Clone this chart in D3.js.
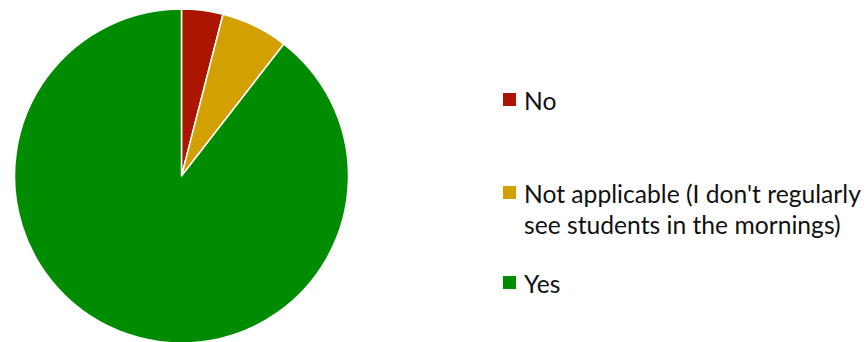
<!DOCTYPE html>
<html>
<head>
<meta charset="utf-8">
<script src="https://cdn.jsdelivr.net/npm/d3@7"></script>
<style>
  html, body { margin: 0; padding: 0; background: #fff; }
  svg { display: block; }
  text { font-family: Lato, "Open Sans", sans-serif; fill: #111; }
</style>
</head>
<body>
<svg id="chart" width="868" height="342"></svg>
<script>
// Survey answers and their shares of responses (%)
const categories = ["No", "Not applicable (I don't regularly see students in the mornings)", "Yes"];
const legendLines = [["No"], ["Not applicable (I don't regularly", "see students in the mornings)"], ["Yes"]];
const values = [4.0, 6.5, 89.5];
const colors = ["#AC1500", "#D2A000", "#008C00"];

const svg = d3.select("#chart");
const cx = 181.5, cy = 176, r = 167;

const pie = d3.pie().sort(null).value(d => d)(values);
const arc = d3.arc().innerRadius(0).outerRadius(r);

svg.append("g")
  .attr("transform", `translate(${cx},${cy})`)
  .selectAll("path")
  .data(pie)
  .join("path")
  .attr("d", arc)
  .attr("fill", (d, i) => colors[i])
  .attr("stroke", "#fff")
  .attr("stroke-width", 1.5)
  .attr("stroke-linejoin", "round");

// Legend
const legendTop = [93, 186, 276];
const legend = svg.append("g");
const fontSize = 22;
legendLines.forEach((lines, i) => {
  const g = legend.append("g");
  g.append("rect")
    .attr("x", 503).attr("y", legendTop[i])
    .attr("width", 13).attr("height", 13)
    .attr("fill", colors[i]);
  lines.forEach((ln, j) => {
    g.append("text")
      .attr("x", 524)
      .attr("y", legendTop[i] + 17 + j * 31)
      .attr("font-size", fontSize)
      .text(ln);
  });
});

// Fit legend font so the longest line spans the legend column width
const longest = legend.selectAll("text").filter(function() { return this.textContent.startsWith("Not applicable"); }).node();
const w = longest.getComputedTextLength();
const fs = fontSize * 337 / w;
legend.selectAll("text").attr("font-size", fs);
</script>
</body>
</html>
